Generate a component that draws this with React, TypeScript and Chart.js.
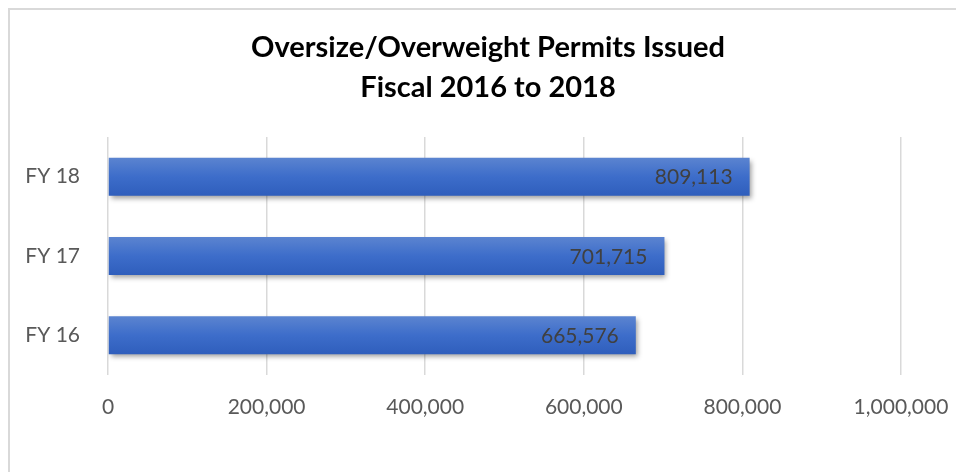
import React, { useEffect, useRef } from "react";
import { Chart, registerables } from "chart.js";

Chart.register(...registerables);

const titleLines = ["Oversize/Overweight Permits Issued", "Fiscal 2016 to 2018"];
const categories = ["FY 18", "FY 17", "FY 16"];
const permits = [809113, 701715, 665576];
const xTicks = [0, 200000, 400000, 600000, 800000, 1000000];

const FONT = "Lato, 'Open Sans', sans-serif";

const fmt = (v: number) => v.toLocaleString("en-US");

const framePlugin = {
  id: "frame",
  beforeDraw(chart: any) {
    const ctx = chart.ctx;
    ctx.save();
    ctx.fillStyle = "#ffffff";
    ctx.fillRect(0, 0, chart.width, chart.height);
    ctx.strokeStyle = "#d9d9d9";
    ctx.lineWidth = 2;
    ctx.beginPath();
    ctx.moveTo(9, chart.height + 5);
    ctx.lineTo(9, 9);
    ctx.lineTo(chart.width + 5, 9);
    ctx.stroke();
    ctx.restore();
  },
};

const shadowPlugin = {
  id: "barShadow",
  beforeDatasetsDraw(chart: any) {
    const ctx = chart.ctx;
    ctx.save();
    ctx.shadowColor = "rgba(0,0,0,0.38)";
    ctx.shadowBlur = 5;
    ctx.shadowOffsetX = 2;
    ctx.shadowOffsetY = 3;
  },
  afterDatasetsDraw(chart: any) {
    chart.ctx.restore();
  },
};

const valueLabelPlugin = {
  id: "valueLabels",
  afterDatasetsDraw(chart: any) {
    const ctx = chart.ctx;
    const meta = chart.getDatasetMeta(0);
    ctx.save();
    ctx.shadowColor = "transparent";
    ctx.fillStyle = "#404040";
    ctx.font = `21px ${FONT}`;
    ctx.textAlign = "right";
    ctx.textBaseline = "middle";
    meta.data.forEach((el: any, i: number) => {
      const v = chart.data.datasets[0].data[i];
      ctx.fillText(fmt(v), el.x - 17, el.y + 1);
    });
    ctx.restore();
  },
};

export default function App() {
  const ref = useRef<HTMLCanvasElement>(null);

  useEffect(() => {
    if (!ref.current) return;
    const chart = new Chart(ref.current, {
      type: "bar",
      data: {
        labels: categories,
        datasets: [
          {
            data: permits,
            backgroundColor: (c: any) => {
              const ch = c.chart;
              const area = ch.chartArea;
              const ys = ch.scales?.y;
              if (!area || !ys || c.dataIndex === undefined) return "#3a6cc9";
              const cy = ys.getPixelForValue(c.dataIndex);
              const half = ((area.bottom - area.top) / categories.length) * 0.48 / 2;
              const g = ch.ctx.createLinearGradient(0, cy - half, 0, cy + half);
              g.addColorStop(0, "#5b84d0");
              g.addColorStop(0.5, "#3d6dca");
              g.addColorStop(1, "#2f5ebc");
              return g;
            },
            borderWidth: 0,
            barPercentage: 0.48,
            categoryPercentage: 1,
          },
        ],
      },
      options: {
        indexAxis: "y",
        animation: false,
        responsive: false,
        maintainAspectRatio: false,
        layout: { padding: { left: 20, right: 0, top: 0, bottom: 0 } },
        plugins: {
          legend: { display: false },
          tooltip: { enabled: false },
          title: {
            display: true,
            text: titleLines,
            color: "#000000",
            font: { family: FONT, size: 29, weight: "bold", lineHeight: 40 / 29 },
            padding: { top: 28, bottom: 29 },
          },
        },
        scales: {
          x: {
            min: 0,
            max: 1000000,
            afterBuildTicks: (s: any) => {
              s.ticks = xTicks.map((v) => ({ value: v }));
            },
            afterFit: (s: any) => {
              s.height = 97;
              s.paddingRight = 55;
            },
            grid: { color: "#d9d9d9", lineWidth: 1.5, drawTicks: false },
            border: { display: false },
            ticks: {
              color: "#595959",
              font: { family: FONT, size: 21 },
              padding: 20,
              maxRotation: 0,
              callback: (v: any) => fmt(Number(v)),
            },
          },
          y: {
            afterFit: (s: any) => {
              s.width = 88;
            },
            grid: { display: false, drawTicks: false },
            border: { display: false },
            ticks: {
              color: "#595959",
              font: { family: FONT, size: 21 },
              padding: 28,
            },
          },
        },
      },
      plugins: [framePlugin, shadowPlugin, valueLabelPlugin],
    });
    return () => chart.destroy();
  }, []);

  return (
    <div style={{ position: "fixed", left: 0, top: 0, width: 956, height: 472 }}>
      <canvas ref={ref} width={956} height={472} style={{ display: "block" }} />
    </div>
  );
}
